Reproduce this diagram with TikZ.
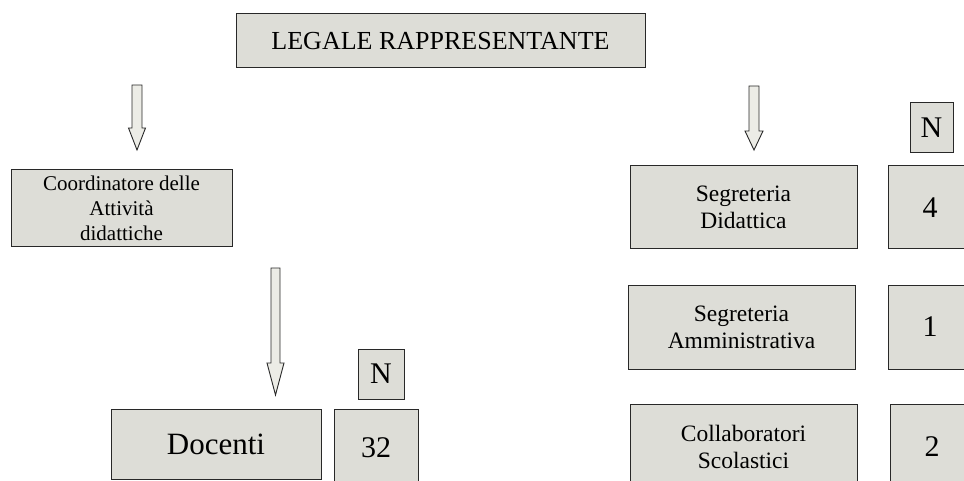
\documentclass[tikz,border=0pt]{standalone}
\usepackage{fontspec}
\setmainfont{Liberation Serif}
\definecolor{boxfill}{RGB}{221,221,215}
\definecolor{arrfill}{RGB}{236,236,230}
\definecolor{edge}{RGB}{40,40,40}
\newcommand\fatdown[6]{% x, top, headstart, tip, shaft half, head half
  \fill[arrfill] (#1-#5,#2) -- (#1+#5,#2) -- (#1+#5,#3) -- (#1+#6,#3) -- (#1,#4) -- (#1-#6,#3) -- (#1-#5,#3) -- cycle;
  \draw[edge,line width=0.9pt,line join=miter] (#1-#5,#2) -- (#1+#5,#2) -- (#1+#5,#3) -- (#1+#6,#3) -- (#1,#4) -- (#1-#6,#3) -- (#1-#5,#3) -- cycle;}
\begin{document}
\begin{tikzpicture}[x=1pt,y=-1pt,
  box/.style={draw=edge,fill=boxfill,line width=1pt,inner sep=0pt,align=center,anchor=center},
  num/.style={box,font=\fontsize{30}{34}\selectfont},
  seg/.style={box,font=\fontsize{23.5}{27}\selectfont,minimum width=227pt}]
\useasboundingbox (0,0) rectangle (964,481);
\clip (0,0) rectangle (964,481);
\node[box,minimum width=409pt,minimum height=54pt,font=\fontsize{26}{30}\selectfont] (legal) at (440.5,41) {LEGALE RAPPRESENTANTE};
\node[box,minimum width=221pt,minimum height=77pt,font=\fontsize{21}{25}\selectfont] (coord) at (121.5,208) {Coordinatore delle\\Attività\\didattiche};
\node[box,minimum width=210pt,minimum height=70pt,font=\fontsize{31}{34}\selectfont] (doc) at (216,444) {Docenti};
\node[num,minimum width=84pt,minimum height=78pt] (n32) at (376,448) {32};
\node[num,minimum width=46pt,minimum height=50pt] (nl) at (381,374) {N};
\node[seg,minimum height=83pt] (segd) at (743.5,207.5) {Segreteria\\Didattica};
\node[num,minimum width=84pt,minimum height=83pt] (n4) at (930,207.5) {4};
\node[num,minimum width=43pt,minimum height=50pt] (nr) at (931.5,128) {N};
\node[seg,minimum height=84pt] (sega) at (741.5,327) {Segreteria\\Amministrativa};
\node[num,minimum width=84pt,minimum height=84pt] (n1) at (930,327) {1};
\node[seg,minimum height=86pt] (coll) at (743.5,447) {Collaboratori\\Scolastici};
\node[num,minimum width=84pt,minimum height=86pt] (n2) at (932,447) {2};
\fatdown{137}{85}{128}{150}{5}{8.5}
\fatdown{754}{86}{131}{150}{5}{9}
\fatdown{275.5}{268}{363}{395}{4.5}{8.5}
\end{tikzpicture}
\end{document}
